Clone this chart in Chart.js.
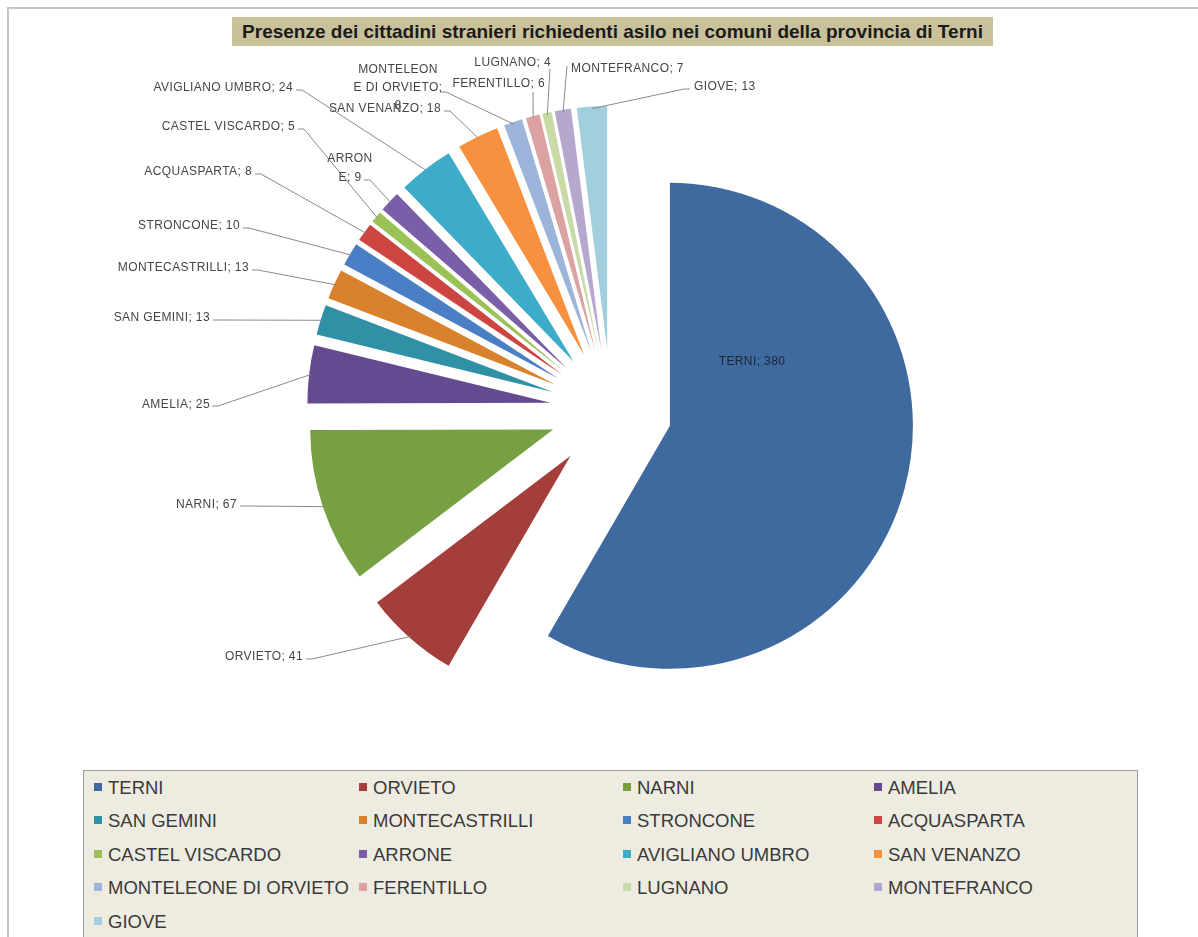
<!DOCTYPE html>
<html><head><meta charset="utf-8">
<script src="https://cdn.jsdelivr.net/npm/chart.js@4.4.0/dist/chart.umd.min.js"></script>
<style>
html,body{margin:0;padding:0;background:#fff;overflow:hidden;}
body{width:1198px;height:937px;position:relative;font-family:'Liberation Sans Narrow','Arial Narrow','Liberation Sans',sans-serif;}
#frame{position:absolute;left:7px;top:7px;width:1189px;height:928px;border-left:2px solid #c6c6c6;border-top:2px solid #c6c6c6;}
#title{position:absolute;left:232px;top:17px;width:761px;height:29px;background:#C8C19A;font-weight:bold;font-size:19px;color:#1b1b1b;text-align:center;line-height:29px;white-space:nowrap;}
#wrap{position:absolute;left:0;top:0;width:1198px;height:770px;}
#legend{position:absolute;left:83px;top:770px;width:1055px;height:167px;background:#EEECE1;border:1px solid #9d9d9d;border-bottom:none;box-sizing:border-box;}
.item{position:absolute;font-size:18.5px;color:#3a3a3a;white-space:nowrap;line-height:22px;height:22px;}
.sw{display:inline-block;width:8px;height:8px;margin-right:6px;vertical-align:middle;position:relative;top:-2px;}
</style></head>
<body>
<div id="frame"></div>
<div id="wrap"><canvas id="c"></canvas></div>
<div id="title"></div>
<div id="legend"></div>
<script>
const chartTitle = 'Presenze dei cittadini stranieri richiedenti asilo nei comuni della provincia di Terni';
const categories = ['TERNI','ORVIETO','NARNI','AMELIA','SAN GEMINI','MONTECASTRILLI','STRONCONE','ACQUASPARTA','CASTEL VISCARDO','ARRONE','AVIGLIANO UMBRO','SAN VENANZO','MONTELEONE DI ORVIETO','FERENTILLO','LUGNANO','MONTEFRANCO','GIOVE'];
const values = [380,41,67,25,13,13,10,8,5,9,24,18,8,6,4,7,13];
const colors = ['#3F6A9F','#A33E3A','#77A042','#664A8F','#2F90A6','#D9822E','#4A7FC5','#CC4541','#9BC257','#7B5EA8','#3DACC8','#F79140','#9DB4DA','#DBA2A1','#C9DAA6','#B6A7CC','#A2CFDD'];

// label placement (text anchor, alignment, leader start, wrap points)
const labelLayout = [
  {x:752,y:362,align:'center',inside:true},
  {x:303,y:657,align:'right',sx:306,sy:659},
  {x:237,y:505,align:'right',sx:240,sy:506},
  {x:210,y:405,align:'right',sx:212,sy:406},
  {x:210,y:318,align:'right',sx:213,sy:320},
  {x:249,y:268,align:'right',sx:252,sy:270},
  {x:240,y:226,align:'right',sx:243,sy:228},
  {x:252,y:172,align:'right',sx:255,sy:174},
  {x:295,y:127,align:'right',sx:298,sy:129},
  {x:350,y:159,align:'center',sx:364,sy:180,wrap:[5],lh:19},
  {x:293,y:88,align:'right',sx:296,sy:90},
  {x:441,y:109,align:'right',sx:444,sy:111},
  {x:398,y:70,align:'center',sx:440,sy:92,wrap:[9,22],lh:18},
  {x:545,y:84,align:'right',sx:533,sy:92,vert:true},
  {x:551,y:63,align:'right',sx:550,sy:69,vert:true},
  {x:571,y:69,align:'left',sx:567,sy:66,vert:true},
  {x:694,y:87,align:'left',sx:690,sy:89}
];

document.getElementById('title').textContent = chartTitle;

// draw exploded slices without radius growth
const baseDraw = Chart.ArcElement.prototype.draw;
Chart.ArcElement.prototype.draw = function(ctx){
  const c = this.circumference;
  this.circumference = Math.PI/2;
  baseDraw.call(this, ctx);
  this.circumference = c;
};

const labelPlugin = {
  id:'sliceLabels',
  afterDatasetsDraw(chart){
    const ctx = chart.ctx;
    const meta = chart.getDatasetMeta(0);
    ctx.save();
    ctx.font = '12px "Liberation Sans", Arial, sans-serif';
    try { ctx.letterSpacing = '0.4px'; } catch(e) {}
    ctx.textBaseline = 'middle';
    meta.data.forEach((arc,i)=>{
      const L = labelLayout[i];
      const txt = categories[i] + '; ' + values[i];
      let lines = [txt];
      if (L.wrap){
        lines = []; let prev = 0;
        L.wrap.forEach(w=>{ lines.push(txt.slice(prev,w).trim()); prev = w; });
        lines.push(txt.slice(prev).trim());
      }
      if (!L.inside){
        const mid = (arc.startAngle + arc.endAngle)/2;
        const r = arc.options.offset/4 + arc.outerRadius - 2;
        const ex = arc.x + Math.cos(mid)*r, ey = arc.y + Math.sin(mid)*r;
        ctx.strokeStyle = '#8a8a8a';
        ctx.lineWidth = 1;
        ctx.beginPath();
        ctx.moveTo(L.sx, L.sy);
        if (!L.vert){
          const dir = ex > L.sx ? 1 : -1;
          ctx.lineTo(L.sx + dir*6, L.sy);
        }
        ctx.lineTo(ex, ey);
        ctx.stroke();
      }
      ctx.fillStyle = L.inside ? '#1c2533' : '#454545';
      ctx.textAlign = L.align;
      lines.forEach((ln,k)=>ctx.fillText(ln, L.x, L.y + k*(L.lh||18)));
    });
    ctx.restore();
  }
};

new Chart(document.getElementById('c'), {
  type:'pie',
  data:{labels:categories, datasets:[{data:values, backgroundColor:colors, borderWidth:0, offset:244, radius:243}]},
  options:{
    responsive:true, maintainAspectRatio:false, animation:false, events:[],
    layout:{padding:{left:224,right:200,top:160,bottom:110}},
    plugins:{legend:{display:false}, tooltip:{enabled:false}, title:{display:false}}
  },
  plugins:[labelPlugin]
});

// legend
const legend = document.getElementById('legend');
const colX = [10, 275, 539, 790];
const rowY = [6, 39, 73, 106, 140];
categories.forEach((name,i)=>{
  const d = document.createElement('div');
  d.className = 'item';
  d.style.left = colX[i%4] + 'px';
  d.style.top = rowY[Math.floor(i/4)] + 'px';
  const s = document.createElement('span');
  s.className = 'sw'; s.style.background = colors[i];
  d.appendChild(s);
  d.appendChild(document.createTextNode(name));
  legend.appendChild(d);
});
</script>
</body></html>
